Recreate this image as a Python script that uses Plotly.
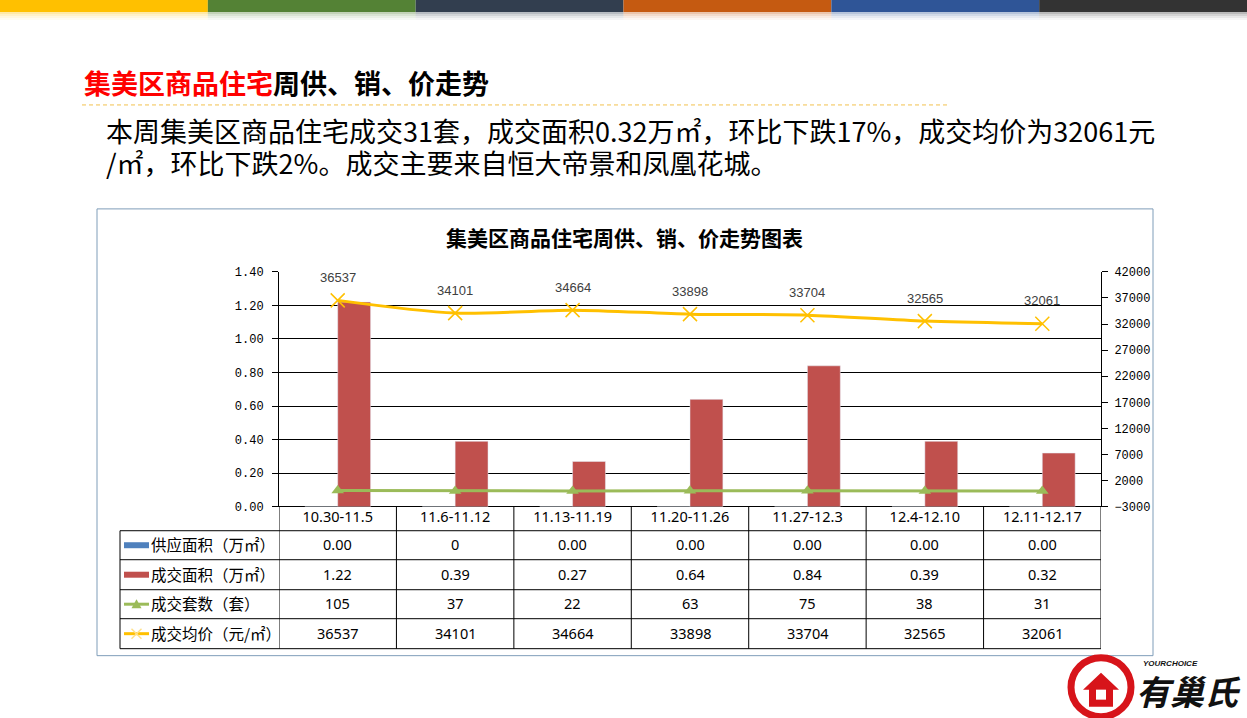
import plotly.graph_objects as go

W, H = 1247, 718

weeks = ["10.30-11.5", "11.6-11.12", "11.13-11.19", "11.20-11.26",
         "11.27-12.3", "12.4-12.10", "12.11-12.17"]
supply_area = [0, 0, 0, 0, 0, 0, 0]
supply_labels = ["0.00", "0", "0.00", "0.00", "0.00", "0.00", "0.00"]
sold_area = [1.22, 0.39, 0.27, 0.64, 0.84, 0.39, 0.32]
sold_units = [105, 37, 22, 63, 75, 38, 31]
avg_price = [36537, 34101, 34664, 33898, 33704, 32565, 32061]

row_names = ["供应面积（万㎡）", "成交面积（万㎡）", "成交套数（套）", "成交均价（元/㎡）"]

BLUE = "#4F81BD"
RED = "#C0504D"
GREEN = "#9BBB59"
GOLD = "#FFC000"
CJK = "Noto Sans CJK SC"

# the page shows up a little shifted/squeezed vertically, compensate for it
Y_OFF, Y_SC = 5, 0.981


def px(x):
    return x / W


def py(y):
    return 1 - (y - Y_OFF) / Y_SC / H


# plot area in pixels
PL, PR, PT, PB = 279, 1101, 271, 506

fig = go.Figure()
fig.add_trace(go.Bar(x=weeks, y=supply_area, name="供应面积", marker_color=BLUE))
fig.add_trace(go.Bar(x=weeks, y=sold_area, name="成交面积", marker_color=RED))
fig.add_trace(go.Scatter(
    x=weeks, y=sold_units, yaxis="y2", mode="lines+markers", name="成交套数",
    line=dict(color=GREEN, width=3),
    marker=dict(symbol="triangle-up", size=11, color=GREEN),
))
fig.add_trace(go.Scatter(
    x=weeks, y=avg_price, yaxis="y2", mode="lines+markers", name="成交均价",
    line=dict(color=GOLD, width=3, shape="spline", smoothing=0.8),
    marker=dict(symbol="x-thin-open", size=14, line=dict(color="#FFE08A", width=1.5)),
))

shapes = []
annotations = []


def note(text, x, y, size, family=CJK, color="#000000", xanchor="center", xref="paper", yref="paper",
         **kw):
    annotations.append(dict(text=text, x=x, y=y, xref=xref, yref=yref, xanchor=xanchor,
                            yanchor="middle", showarrow=False,
                            font=dict(family=family, size=size, color=color), **kw))


# top colour stripes with a soft fade
stripe_colors = ["#FFC000", "#548235", "#323E4F", "#C55A11", "#2F5597", "#333333"]
sw = W / 6
for i, c in enumerate(stripe_colors):
    shapes.append(dict(type="rect", xref="paper", yref="paper", x0=px(i * sw), x1=px((i + 1) * sw),
                       y0=py(11), y1=py(-10), fillcolor=c, line_width=0, layer="above"))
    for k, op in enumerate([0.35, 0.22, 0.12, 0.05]):
        shapes.append(dict(type="rect", xref="paper", yref="paper", x0=px(i * sw), x1=px((i + 1) * sw),
                           y0=py(13 + 2 * k), y1=py(11 + 2 * k), fillcolor=c, opacity=op,
                           line_width=0, layer="above"))

# page heading and dashed rule
note("<b><span style='color:#FF0000'>集美区商品住宅</span>周供、销、价走势</b>",
     px(82), py(82), 27, xanchor="left")
shapes.append(dict(type="line", xref="paper", yref="paper", x0=px(82), x1=px(948), y0=py(104), y1=py(104),
                   line=dict(color="#F2C14E", width=1, dash="4px,3px")))

note("本周集美区商品住宅成交31套，成交面积0.32万㎡，环比下跌17%，成交均价为32061元",
     px(104), py(130), 27, xanchor="left")
note("/㎡，环比下跌2%。成交主要来自恒大帝景和凤凰花城。",
     px(104), py(162), 27, xanchor="left")

# chart frame and title
shapes.append(dict(type="rect", xref="paper", yref="paper", x0=px(97), x1=px(1153), y0=py(655), y1=py(208),
                   line=dict(color="#7F9DB9", width=1), layer="below"))
note("<b>集美区商品住宅周供、销、价走势图表</b>", px(624), py(236), 21)

# price labels above the line
for w, p in zip(weeks, avg_price):
    note(str(p), w, p, 13, family="Liberation Sans", color="#404040", xref="x", yref="y2", yshift=23)

# data table under the plot
row_edges = [506, 530, 559, 589, 618, 648]
TL = 120
for y in row_edges[1:]:
    shapes.append(dict(type="line", xref="paper", yref="paper", x0=px(TL), x1=px(PR), y0=py(y), y1=py(y),
                       line=dict(color="#000000", width=1)))
shapes.append(dict(type="line", xref="paper", yref="paper", x0=px(TL), x1=px(TL),
                   y0=py(row_edges[1]), y1=py(row_edges[-1]), line=dict(color="#000000", width=1)))
for i in range(len(weeks) + 1):
    shapes.append(dict(type="line", xref="x", yref="paper", x0=i - 0.5, x1=i - 0.5,
                       y0=py(row_edges[0]), y1=py(row_edges[-1]), line=dict(color="#000000", width=1)))

row_values = [
    supply_labels,
    [f"{v:.2f}" for v in sold_area],
    [str(v) for v in sold_units],
    [str(v) for v in avg_price],
]
for r, vals in enumerate(row_values):
    yc = (row_edges[r + 1] + row_edges[r + 2]) / 2
    for w, v in zip(weeks, vals):
        note(v, w, py(yc - 1), 14.5, family="Noto Sans", xref="x")
    note(row_names[r], px(149), py(yc - 1), 15.5, xanchor="left")

# legend keys in the first column
kx0, kx1 = 124, 149
for r, c in enumerate([BLUE, RED]):
    yc = (row_edges[r + 1] + row_edges[r + 2]) / 2
    shapes.append(dict(type="rect", xref="paper", yref="paper", x0=px(kx0), x1=px(kx1),
                       y0=py(yc + 3), y1=py(yc - 3), fillcolor=c, line_width=0))
for r, c in [(2, GREEN), (3, GOLD)]:
    yc = (row_edges[r + 1] + row_edges[r + 2]) / 2
    shapes.append(dict(type="line", xref="paper", yref="paper", x0=px(kx0), x1=px(kx1),
                       y0=py(yc), y1=py(yc), line=dict(color=c, width=3)))
yc = (row_edges[3] + row_edges[4]) / 2
mx = (kx0 + kx1) / 2
shapes.append(dict(type="path", xref="paper", yref="paper",
                   path=f"M {px(mx - 5)} {py(yc + 4)} L {px(mx + 5)} {py(yc + 4)} L {px(mx)} {py(yc - 5)} Z",
                   fillcolor=GREEN, line_width=0))
yc = (row_edges[4] + row_edges[5]) / 2
for dx in (-1, 1):
    shapes.append(dict(type="line", xref="paper", yref="paper", x0=px(mx - 5), x1=px(mx + 5),
                       y0=py(yc - 5 * dx), y1=py(yc + 5 * dx), line=dict(color="#FFE08A", width=1.5)))

# logo, bottom right
shapes.append(dict(type="circle", xref="paper", yref="paper", x0=px(1071), x1=px(1131), y0=py(716), y1=py(657),
                   line=dict(color="#D7141A", width=7)))
shapes.append(dict(type="path", xref="paper", yref="paper",
                   path=(f"M {px(1089)} {py(706)} L {px(1089)} {py(689)} L {px(1083)} {py(689)} "
                         f"L {px(1101)} {py(672)} L {px(1119)} {py(689)} L {px(1113)} {py(689)} "
                         f"L {px(1113)} {py(706)} Z"),
                   fillcolor="#D7141A", line_width=0))
shapes.append(dict(type="rect", xref="paper", yref="paper", x0=px(1096), x1=px(1106), y0=py(699), y1=py(689),
                   fillcolor="#FFFFFF", line_width=0))
note("<b><i>有巢氏</i></b>", px(1188), py(690), 34, color="#111111")
note("<b><i>YOURCHOICE</i></b>", px(1170), py(663), 8, family="Liberation Sans", color="#111111")

fig.update_layout(
    width=W, height=H, autosize=False,
    margin=dict(l=0, r=0, t=0, b=0),
    paper_bgcolor="#FFFFFF", plot_bgcolor="#FFFFFF",
    showlegend=False,
    barmode="group", bargap=0.44, bargroupgap=0,
    xaxis=dict(
        domain=[px(PL), px(PR)], range=[-0.5, 6.5], type="category",
        showticklabels=True, ticks="", showgrid=False, zeroline=False,
        tickfont=dict(family="Noto Sans", size=14.5, color="#000000"),
        showline=False, fixedrange=True,
    ),
    yaxis=dict(
        domain=[py(PB), py(PT)], range=[0, 1.4], dtick=0.2, tickformat=".2f",
        showgrid=True, gridcolor="#000000", gridwidth=1,
        zeroline=True, zerolinecolor="#000000", zerolinewidth=1,
        showline=True, linecolor="#000000", linewidth=1,
        ticks="outside", ticklen=6, tickcolor="#000000", ticklabelstandoff=6,
        tickfont=dict(family="Liberation Mono", size=12, color="#000000"),
    ),
    yaxis2=dict(
        overlaying="y", side="right", range=[-3000, 42000], tick0=-3000, dtick=5000,
        tickformat="d",
        showgrid=False, zeroline=False,
        showline=True, linecolor="#000000", linewidth=1,
        ticks="outside", ticklen=6, tickcolor="#000000", ticklabelstandoff=4,
        tickfont=dict(family="Liberation Mono", size=12, color="#000000"),
    ),
    shapes=shapes,
    annotations=annotations,
)

fig.write_html(
    "out.html",
    config={"displayModeBar": False, "responsive": False},
    post_script=("document.documentElement.style.margin='0';"
                 "document.documentElement.style.overflow='hidden';"
                 "document.body.style.margin='0';document.body.style.overflow='hidden';"),
)
